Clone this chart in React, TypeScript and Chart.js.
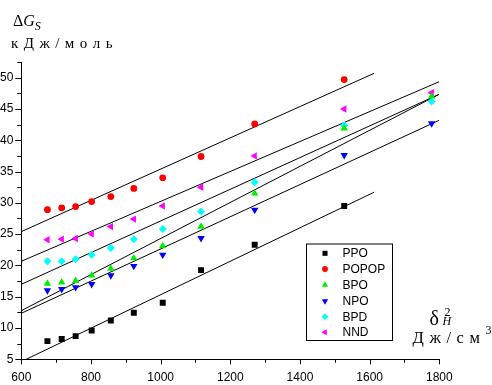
import React, { useEffect, useRef } from 'react';
import { Chart, registerables } from 'chart.js';
import { drawPoint } from 'chart.js/helpers';

Chart.register(...registerables);

// ---- data ----
const xValues = [675, 716, 756, 802, 857, 923, 1006, 1116, 1270, 1527, 1778];
const ppoY = [7.9, 8.25, 8.7, 9.6, 11.2, 12.45, 14.05, 19.25, 23.3, 29.5, null];
const popopY = [28.9, 29.2, 29.4, 30.2, 31.0, 32.3, 34.0, 37.4, 42.6, 49.7, null];
const bpoY = [17.1, 17.3, 17.55, 18.4, 19.5, 21.15, 23.1, 26.2, 31.5, 41.9, 47.0];
const npoY = [16.0, 16.2, 16.5, 17.0, 18.4, 19.9, 21.7, 24.35, 28.85, 37.6, 42.7];
const bpdY = [20.65, 20.65, 21.0, 21.7, 22.8, 24.2, 25.8, 28.6, 33.3, 42.4, 46.2];
const nndY = [24.1, 24.2, 24.3, 25.0, 26.2, 27.4, 29.5, 32.5, 37.5, 45.0, 47.6];

const ppoFitX = [614, 1613];
const ppoFitY = [5.0, 31.7];
const popopFitX = [600, 1613];
const popopFitY = [25.4, 50.7];
const bpoFitX = [600, 1800];
const bpoFitY = [12.77, 47.35];
const npoFitX = [600, 1800];
const npoFitY = [12.35, 43.2];
const bpdFitX = [600, 1800];
const bpdFitY = [16.98, 47.35];
const nndFitX = [600, 1800];
const nndFitY = [20.66, 49.36];

const seriesNames = ['PPO', 'POPOP', 'BPO', 'NPO', 'BPD', 'NND'];
const seriesColors = ['#000000', '#ff0000', '#00ee00', '#0000ff', '#00ffff', '#ff00ff'];
const seriesShapes = ['rect', 'circle', 'triangle', 'triangle', 'rectRot', 'triangle'];
const seriesRotations = [0, 0, 0, 180, 0, -90];
const seriesRadius = [4.2, 3.4, 4.3, 4.3, 4.0, 4.3];

const xMin = 600;
const xMax = 1800;
const xMajor = 200;
const xMinor = 100;
const yMin = 5;
const yMax = 52.5;
const yMajor = 5;
const yMinor = 2.5;

const SERIF = '"Liberation Serif", "Times New Roman", serif';
const SANS = '"Liberation Sans", Arial, sans-serif';

function toPoints(xs: number[], ys: (number | null)[]) {
  const out: { x: number; y: number }[] = [];
  xs.forEach((x, i) => {
    const y = ys[i];
    if (y !== null && y !== undefined) out.push({ x, y });
  });
  return out;
}

function drawSpaced(ctx: CanvasRenderingContext2D, text: string, x: number, baseline: number, targetWidth: number) {
  const chars = Array.from(text);
  const widths = chars.map((c) => ctx.measureText(c).width);
  const total = widths.reduce((a, b) => a + b, 0);
  const gap = chars.length > 1 ? (targetWidth - total) / (chars.length - 1) : 0;
  let cx = x;
  chars.forEach((c, i) => {
    ctx.fillText(c, cx, baseline);
    cx += widths[i] + gap;
  });
}

const decorPlugin = {
  id: 'decor',
  afterDraw(chart: any) {
    const ctx: CanvasRenderingContext2D = chart.ctx;
    const xs = chart.scales.x;
    const ys = chart.scales.y;
    const area = chart.chartArea;
    ctx.save();
    ctx.strokeStyle = '#000';
    ctx.lineWidth = 1;
    // x ticks
    for (let v = xMin; v <= xMax + 1e-6; v += xMinor) {
      const px = Math.round(xs.getPixelForValue(v)) + 0.5;
      const major = Math.abs(v / xMajor - Math.round(v / xMajor)) < 1e-6;
      ctx.beginPath();
      ctx.moveTo(px, area.bottom);
      ctx.lineTo(px, area.bottom + (major ? 5 : 3.5));
      ctx.stroke();
    }
    // y ticks
    for (let v = yMin; v <= yMax + 1e-6; v += yMinor) {
      const py = Math.round(ys.getPixelForValue(v)) + 0.5;
      const major = Math.abs(v / yMajor - Math.round(v / yMajor)) < 1e-6;
      ctx.beginPath();
      ctx.moveTo(area.left, py);
      ctx.lineTo(area.left - (major ? 6 : 4), py);
      ctx.stroke();
    }

    // legend
    const lx = 306, ly = 243.5, lw = 86, lh = 96.5;
    ctx.fillStyle = '#fff';
    ctx.fillRect(lx, ly, lw, lh);
    ctx.strokeRect(lx + 0.5, ly + 0.5, lw, lh);
    const rows = [253.3, 269, 285, 301, 316.7, 332.3];
    ctx.font = `12px ${SANS}`;
    ctx.textBaseline = 'middle';
    ctx.textAlign = 'left';
    seriesNames.forEach((name, i) => {
      ctx.fillStyle = seriesColors[i];
      ctx.strokeStyle = seriesColors[i];
      drawPoint(ctx, {
        pointStyle: seriesShapes[i],
        radius: seriesRadius[i] * 0.85,
        rotation: seriesRotations[i],
        borderWidth: 0,
      } as any, 325, rows[i]);
      ctx.fillStyle = '#000';
      ctx.fillText(name, 342.5, rows[i] + 0.5);
    });

    // axis titles
    ctx.fillStyle = '#000';
    ctx.textBaseline = 'alphabetic';
    ctx.font = `16px ${SERIF}`;
    ctx.fillText('Δ', 13, 26);
    const dW = ctx.measureText('Δ').width;
    ctx.font = `italic 16px ${SERIF}`;
    ctx.fillText('G', 13 + dW, 26);
    const gW = ctx.measureText('G').width;
    ctx.font = `italic 12px ${SERIF}`;
    ctx.fillText('S', 13 + dW + gW, 29.5);

    ctx.font = `15px ${SERIF}`;
    drawSpaced(ctx, 'кДж/моль', 11, 48.3, 101.5);

    ctx.font = `20px ${SERIF}`;
    ctx.fillText('δ', 429.5, 325);
    ctx.font = `12px ${SERIF}`;
    ctx.fillText('2', 444.5, 315.7);
    ctx.font = `italic 12px ${SERIF}`;
    ctx.fillText('H', 442.5, 325);

    ctx.font = `16.5px ${SERIF}`;
    drawSpaced(ctx, 'Дж/см', 412.5, 343.3, 67.5);
    ctx.font = `12px ${SERIF}`;
    ctx.fillText('3', 485.5, 334.3);

    ctx.restore();
  },
};

export default function App() {
  const canvasRef = useRef<HTMLCanvasElement | null>(null);

  useEffect(() => {
    const canvas = canvasRef.current;
    if (!canvas) return;

    const scatterData = [ppoY, popopY, bpoY, npoY, bpdY, nndY];
    const fits: [number[], number[]][] = [
      [ppoFitX, ppoFitY],
      [popopFitX, popopFitY],
      [bpoFitX, bpoFitY],
      [npoFitX, npoFitY],
      [bpdFitX, bpdFitY],
      [nndFitX, nndFitY],
    ];

    const datasets: any[] = [];
    scatterData.forEach((ys, i) => {
      datasets.push({
        label: seriesNames[i],
        data: toPoints(xValues, ys),
        showLine: false,
        pointStyle: seriesShapes[i],
        pointRotation: seriesRotations[i],
        pointRadius: seriesRadius[i],
        pointBackgroundColor: seriesColors[i],
        pointBorderColor: seriesColors[i],
        pointBorderWidth: 0,
        order: 1,
      });
    });
    fits.forEach(([fx, fy], i) => {
      datasets.push({
        label: seriesNames[i] + ' fit',
        data: toPoints(fx, fy),
        showLine: true,
        borderColor: '#000',
        borderWidth: 1,
        pointRadius: 0,
        fill: false,
        clip: 0,
        order: 5,
      });
    });

    const chart = new Chart(canvas, {
      type: 'scatter',
      data: { datasets },
      options: {
        animation: false,
        responsive: false,
        maintainAspectRatio: false,
        devicePixelRatio: 1,
        layout: { padding: { top: 62, right: 52.7, left: 0, bottom: 0 } },
        plugins: {
          legend: { display: false },
          tooltip: { enabled: false },
          title: { display: false },
        },
        scales: {
          x: {
            type: 'linear',
            min: xMin,
            max: xMax,
            grid: { display: false, drawTicks: false },
            border: { display: true, color: '#000', width: 1 },
            ticks: {
              stepSize: xMajor,
              color: '#000',
              padding: 11,
              maxRotation: 0,
              font: { family: SANS, size: 12 },
              callback: (v: any) => String(v),
            },
            afterFit: (s: any) => {
              s.height = 25.7;
            },
          },
          y: {
            type: 'linear',
            min: yMin,
            max: yMax,
            grid: { display: false, drawTicks: false },
            border: { display: true, color: '#000', width: 1 },
            ticks: {
              stepSize: yMajor,
              includeBounds: false,
              color: '#000',
              padding: 8,
              font: { family: SANS, size: 12 },
              callback: (v: any) => String(v),
            },
            afterFit: (s: any) => {
              s.width = 21.3;
            },
          },
        },
      },
      plugins: [decorPlugin],
    });

    return () => {
      chart.destroy();
    };
  }, []);

  return (
    <div style={{ position: 'fixed', left: 0, top: 0, width: 492, height: 385, background: '#fff' }}>
      <canvas ref={canvasRef} width={492} height={385} style={{ width: 492, height: 385, display: 'block' }} />
    </div>
  );
}
